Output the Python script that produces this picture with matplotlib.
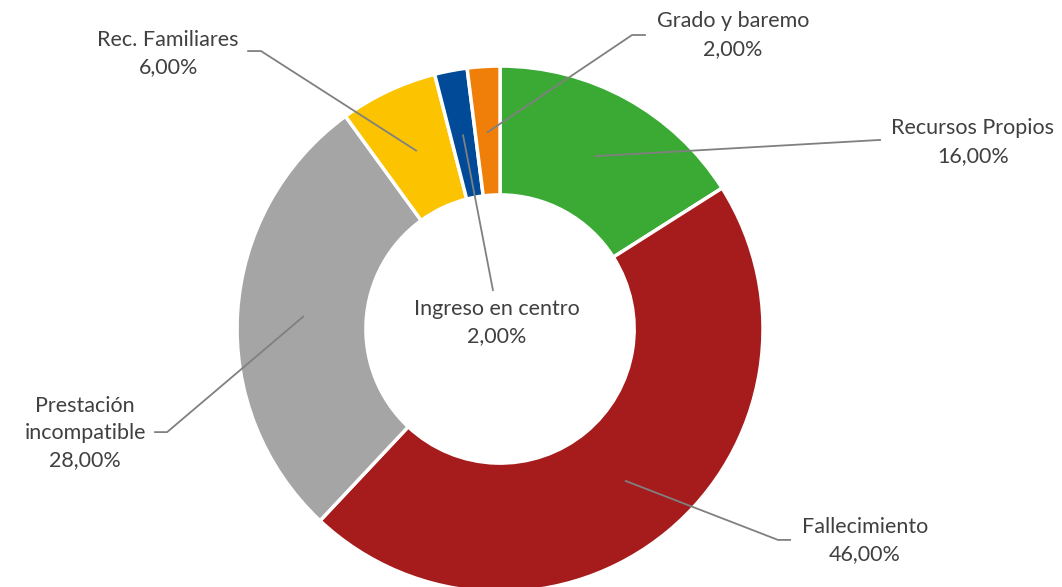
import numpy as np
import matplotlib
matplotlib.use("Agg")
import matplotlib.pyplot as plt

plt.rcParams['font.family'] = ['Lato', 'DejaVu Sans']

labels = ['Recursos Propios', 'Fallecimiento', 'Prestación\nincompatible',
          'Rec. Familiares', 'Ingreso en centro', 'Grado y baremo']
values = [16.0, 46.0, 28.0, 6.0, 2.0, 2.0]
colors = ['#3AAA35', '#A61B1B', '#A5A5A5', '#FBC300', '#004A98', '#F07F09']

# leader line: elbow point, line end, text centre (data coords, radius 1 = outer edge)
elbows = [None, (1.057, -0.802), (-1.266, -0.392), (-0.909, 1.057), None, (0.502, 1.118)]
ends = [(1.445, 0.719), (1.103, -0.802), (-1.312, -0.392), (-0.958, 1.057),
        (-0.027, 0.148), (0.551, 1.118)]
text_pos = [(1.798, 0.711), (1.388, -0.806), (-1.578, -0.395), (-1.262, 1.049),
            (-0.011, 0.023), (0.886, 1.118)]

fig = plt.figure(figsize=(10.62, 5.87), dpi=100)
ax = fig.add_axes([0.4708 - 0.2476, 0.4395 - 0.448, 0.4953, 0.896])
ax.pie(values, colors=colors, startangle=90, counterclock=False, radius=1,
       wedgeprops=dict(width=0.49, edgecolor='white', linewidth=2.5))
ax.set_xlim(-1, 1)
ax.set_ylim(-1, 1)
ax.axis('off')

total = sum(values)
cum = 0
for i, v in enumerate(values):
    mid = np.deg2rad(90 - (cum + v / 2) / total * 360)
    cum += v
    start = (0.75 * np.cos(mid), 0.75 * np.sin(mid))
    pts = [start] + ([elbows[i]] if elbows[i] else []) + [ends[i]]
    xs, ys = zip(*pts)
    ax.plot(xs, ys, color='#808080', lw=1.3, clip_on=False, zorder=3)
    pct = f"{v:.2f}%".replace('.', ',')
    ax.text(text_pos[i][0], text_pos[i][1], f"{labels[i]}\n{pct}",
            ha='center', va='center', fontsize=15.5, color='#404040',
            linespacing=1.45, clip_on=False, zorder=4)

fig.savefig('out.png', dpi=100, facecolor='white')
